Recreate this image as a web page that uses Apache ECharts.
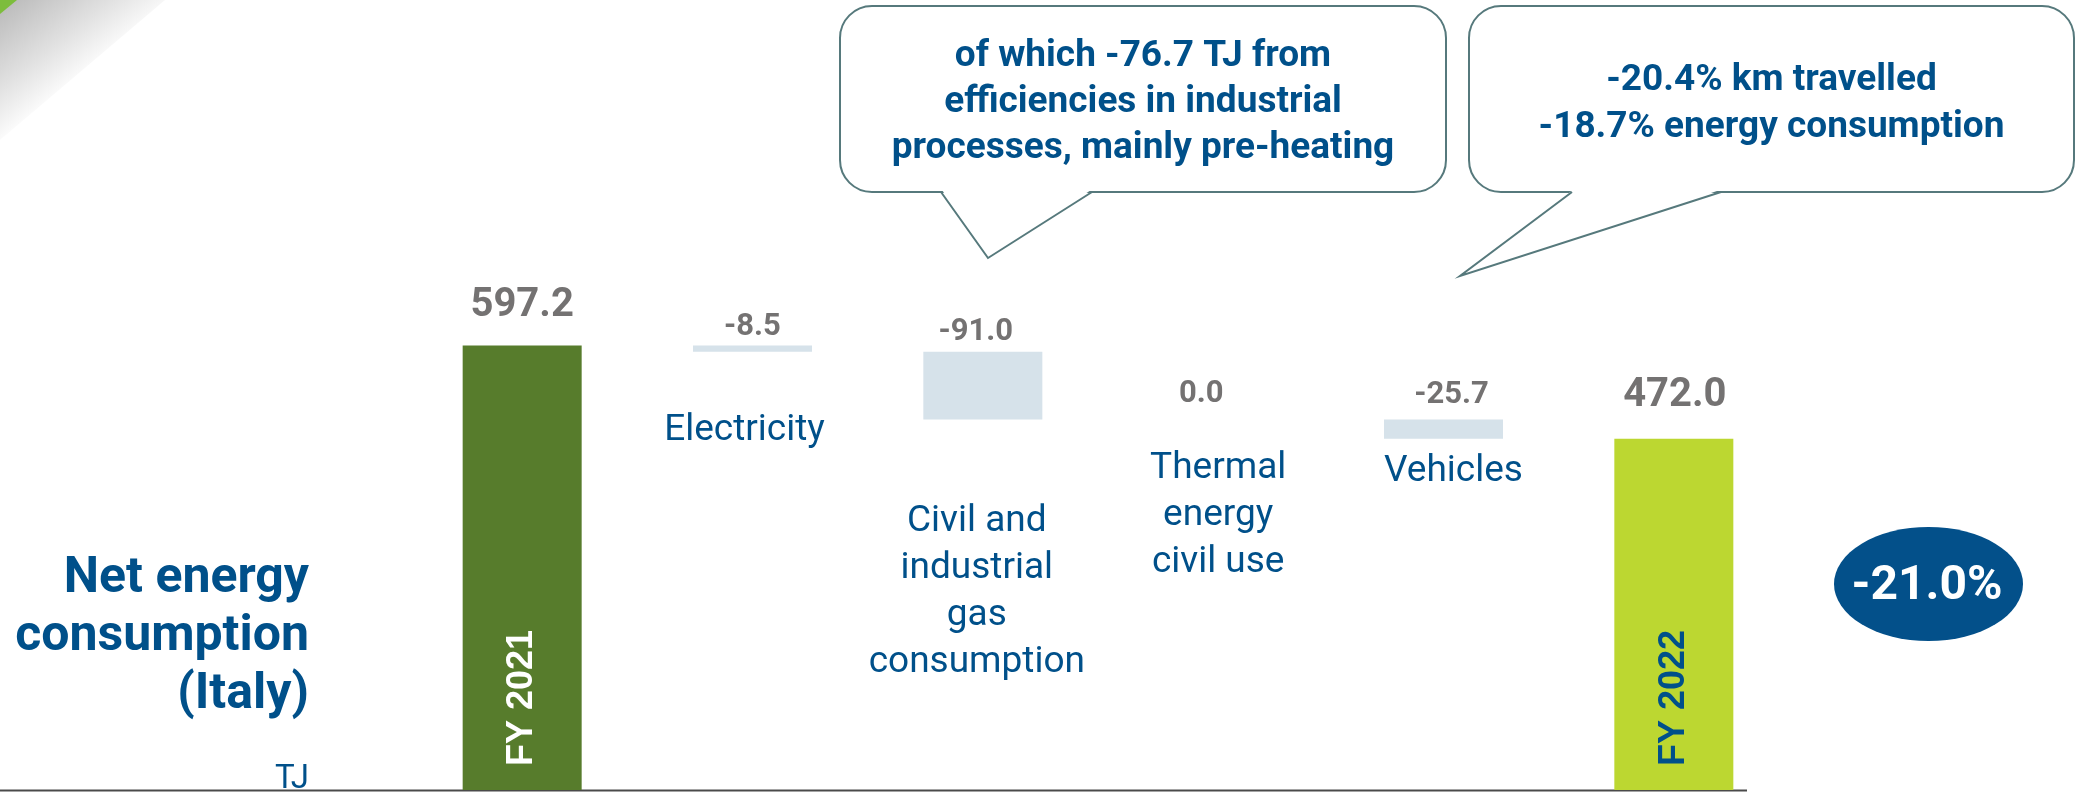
<!DOCTYPE html>
<html>
<head>
<meta charset="utf-8">
<title>Net energy consumption (Italy)</title>
<script src="https://cdn.jsdelivr.net/npm/echarts@6/dist/echarts.min.js"></script>
<style>
  html, body { margin: 0; padding: 0; background: #ffffff; }
  #chart { width: 2082px; height: 793px; }
</style>
</head>
<body>
<div id="chart"></div>
<script>
// Waterfall steps, TJ
const categories = ['FY 2021', 'Electricity', 'Civil and\nindustrial\ngas\nconsumption', 'Thermal\nenergy\ncivil use', 'Vehicles', 'FY 2022'];
const values = [597.2, -8.5, -91.0, 0.0, -25.7, 472.0];
const isTotal = [true, false, false, false, false, true];
const totalChangeText = '-21.0%';
const noteGas = 'of which -76.7 TJ from\nefficiencies in industrial\nprocesses, mainly pre-heating';
const noteVehicles = '-20.4% km travelled\n-18.7% energy consumption';

const BLUE = '#00508a';
const GREY = '#747272';
const BORDER = '#56797c';
const COLORS = { start: '#577c2c', end: '#bcd731', step: '#d6e2ea' };

// Invisible base and visible bar heights for the waterfall
const baseData = [];
const barData = [];
let running = 0;
values.forEach((v, i) => {
  if (isTotal[i]) {
    running = v;
    baseData.push(0);
    barData.push(v);
  } else {
    running += v;
    baseData.push(running);
    barData.push(-v);
  }
});

// Label placement tweaks per category (value label, category label)
const valueLabelStyle = [
  { distance: 20, offset: [0, 0] },
  { distance: 3, offset: [0, 0] },
  { distance: 4, offset: [-7, 0] },
  { distance: 10, offset: [-12, 0] },
  { distance: 9, offset: [8, 0] },
  { distance: 23, offset: [1, 0] }
];
const nameLabelStyle = [
  null,
  { distance: 55, offset: [-8, 0] },
  { distance: 79, offset: [-6, 0] },
  { distance: 26, offset: [5, 0] },
  { distance: 10, offset: [10, 0] },
  null
];

// Speech-bubble callout: rounded box plus a pointer
function callout(box, pointer, text, textY, lineHeight) {
  const cx = box.x + box.width / 2;
  return [
    {
      type: 'rect', z: 5,
      shape: { x: box.x, y: box.y, width: box.width, height: box.height, r: 32 },
      style: { fill: '#ffffff', stroke: BORDER, lineWidth: 2 }
    },
    {
      type: 'polygon', z: 6,
      shape: { points: [[pointer[0][0] + 1, pointer[0][1] - 2], pointer[1], [pointer[2][0] - 1, pointer[2][1] - 2]] },
      style: { fill: '#ffffff' }
    },
    {
      type: 'polyline', z: 7,
      shape: { points: pointer },
      style: { fill: null, stroke: BORDER, lineWidth: 2 }
    },
    {
      type: 'text', z: 8,
      style: {
        text: text, x: cx, y: textY,
        align: 'center', verticalAlign: 'middle',
        fill: BLUE,
        fontFamily: 'Roboto', fontWeight: 'bold', fontSize: 37,
        lineHeight: lineHeight
      }
    }
  ];
}

const chart = echarts.init(document.getElementById('chart'), null, { renderer: 'canvas' });

const option = {
  backgroundColor: '#ffffff',
  animation: false,
  grid: { left: 407, width: 1382, top: 269, bottom: 3 },
  xAxis: {
    type: 'category',
    data: categories,
    z: 10,
    axisLine: { show: false },
    axisTick: { show: false },
    axisLabel: {
      inside: true,
      rotate: 90,
      margin: 24,
      interval: 0,
      fontFamily: 'Liberation Sans',
      fontWeight: 'bold',
      fontSize: 36,
      formatter: (v, i) => (isTotal[i] ? v : ''),
      color: (v, i) => (i === 0 ? '#ffffff' : BLUE)
    }
  },
  yAxis: {
    type: 'value',
    min: 0,
    max: 700,
    show: false,
    splitLine: { show: false }
  },
  series: [
    {
      name: 'base',
      type: 'bar',
      stack: 'waterfall',
      barWidth: 119,
      silent: true,
      itemStyle: { color: 'rgba(0,0,0,0)' },
      data: baseData.map((b, i) => {
        const s = nameLabelStyle[i];
        return {
          value: b,
          label: s ? {
            show: true,
            position: 'insideTop',
            distance: s.distance,
            offset: s.offset,
            formatter: categories[i],
            color: BLUE,
            fontFamily: 'Roboto',
            fontSize: 37,
            lineHeight: 47,
            align: 'center'
          } : { show: false }
        };
      })
    },
    {
      name: 'TJ',
      type: 'bar',
      stack: 'waterfall',
      barWidth: 119,
      silent: true,
      data: barData.map((h, i) => ({
        value: h,
        itemStyle: { color: isTotal[i] ? (i === 0 ? COLORS.start : COLORS.end) : COLORS.step },
        label: {
          show: true,
          position: 'top',
          distance: valueLabelStyle[i].distance,
          offset: valueLabelStyle[i].offset,
          formatter: values[i].toFixed(1),
          color: GREY,
          fontFamily: 'Roboto',
          fontWeight: 'bold',
          fontSize: isTotal[i] ? 40 : 31
        }
      }))
    }
  ],
  graphic: [].concat(
    [
      // folded page corner
      {
        type: 'polygon', z: 1,
        shape: { points: [[0, 0], [165, 0], [0, 140]] },
        style: {
          fill: new echarts.graphic.LinearGradient(6, 7, 72, 90, [
            { offset: 0, color: '#bdbdbd' },
            { offset: 0.55, color: '#e0e0e0' },
            { offset: 1, color: '#ffffff' }
          ], true)
        }
      },
      {
        type: 'polygon', z: 2,
        shape: { points: [[0, 0], [17, 0], [0, 14]] },
        style: { fill: '#7dbd3c' }
      },
      // baseline
      {
        type: 'line', z: 0,
        shape: { x1: 0, y1: 790.5, x2: 1747, y2: 790.5 },
        style: { stroke: '#4a4a4a', lineWidth: 2 }
      },
      // chart title and unit
      {
        type: 'text', z: 5,
        style: {
          text: 'Net energy\nconsumption\n(Italy)',
          x: 309, y: 637,
          align: 'right', verticalAlign: 'middle',
          fill: BLUE,
          fontFamily: 'Roboto', fontWeight: 'bold', fontSize: 50,
          lineHeight: 58
        }
      },
      {
        type: 'text', z: 5,
        style: {
          text: 'TJ',
          x: 309, y: 780,
          align: 'right', verticalAlign: 'middle',
          fill: BLUE,
          fontFamily: 'Roboto', fontSize: 33
        }
      },
      // overall change badge
      {
        type: 'circle', z: 5,
        x: 1928.5, y: 584, scaleX: 94.5 / 57,
        shape: { cx: 0, cy: 0, r: 57 },
        style: { fill: '#03508a' }
      },
      {
        type: 'text', z: 6,
        style: {
          text: totalChangeText,
          x: 1927, y: 587,
          align: 'center', verticalAlign: 'middle',
          fill: '#ffffff',
          fontFamily: 'Roboto', fontWeight: 'bold', fontSize: 48
        }
      }
    ],
    callout({ x: 840, y: 6, width: 606, height: 186 }, [[941, 192], [988, 258], [1092, 192]], noteGas, 103, 46),
    callout({ x: 1469, y: 6, width: 605, height: 186 }, [[1572, 192], [1460, 276], [1721, 192]], noteVehicles, 104, 47)
  )
};

chart.setOption(option);
</script>
</body>
</html>
